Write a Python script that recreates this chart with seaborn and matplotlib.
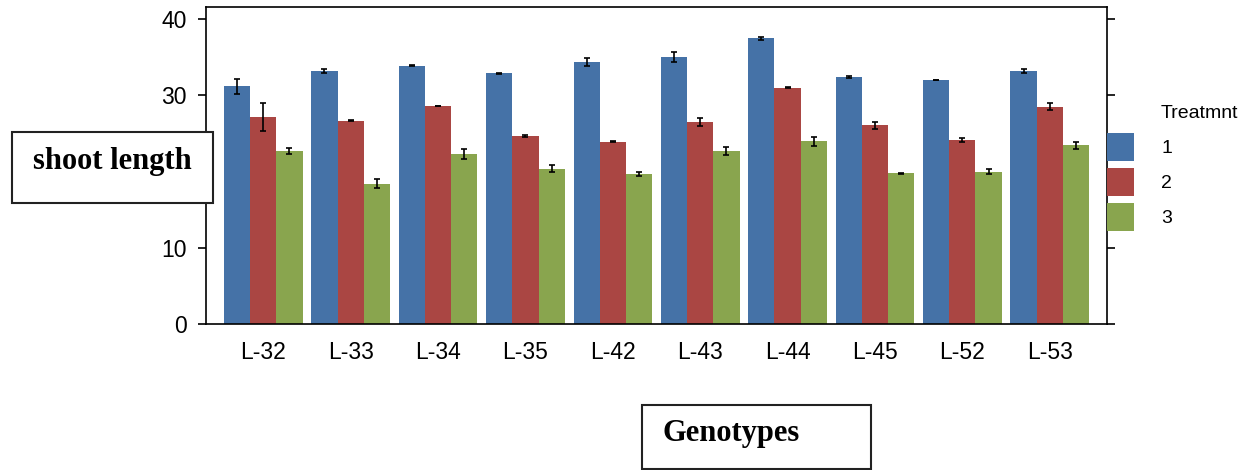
import matplotlib
matplotlib.use('Agg')
import matplotlib.pyplot as plt
from matplotlib.patches import Rectangle
import pandas as pd
import seaborn as sns

# values
genotypes = ['L-32', 'L-33', 'L-34', 'L-35', 'L-42', 'L-43', 'L-44', 'L-45', 'L-52', 'L-53']
treatments = ['1', '2', '3']
treat1 = [31.2, 33.2, 33.9, 32.9, 34.35, 35.1, 37.5, 32.45, 32.0, 33.2]
treat2 = [27.2, 26.7, 28.65, 24.7, 23.95, 26.5, 31.0, 26.1, 24.2, 28.5]
treat3 = [22.7, 18.4, 22.35, 20.4, 19.7, 22.7, 24.0, 19.8, 20.0, 23.45]
err1 = [0.96, 0.31, 0.04, 0.04, 0.53, 0.66, 0.22, 0.12, 0.0, 0.22]
err2 = [1.8, 0.06, 0.0, 0.15, 0.05, 0.53, 0.05, 0.48, 0.28, 0.46]
err3 = [0.37, 0.61, 0.66, 0.44, 0.24, 0.48, 0.59, 0.05, 0.3, 0.5]
y_ticks = [0, 10, 20, 30, 40]
y_ticklabels = ['0', '10', '', '30', '40']  # the 20 sits under the "shoot length" box
colors = ['#4572A7', '#AA4643', '#89A54E']

df = pd.DataFrame({
    'Genotype': genotypes * 3,
    'Treatmnt': [t for t in treatments for _ in genotypes],
    'shoot': treat1 + treat2 + treat3,
})

sns.set_style('white')
plt.rcParams['font.family'] = ['Liberation Sans', 'DejaVu Sans']
plt.rcParams['text.color'] = 'black'

fig = plt.figure(figsize=(12.51, 4.70), dpi=100)
ax = fig.add_axes([0.1647, 0.3106, 0.7202, 0.6751])

sns.barplot(data=df, x='Genotype', y='shoot', hue='Treatmnt', palette=colors,
            width=0.9, saturation=1, errorbar=None, linewidth=0, ax=ax)

# error bars on top of each bar
for cont, errs in zip(ax.containers, [err1, err2, err3]):
    xs = [b.get_x() + b.get_width() / 2 for b in cont]
    ys = [b.get_height() for b in cont]
    ax.errorbar(xs, ys, yerr=errs, fmt='none', ecolor='black',
                elinewidth=1.2, capsize=2.5, capthick=1.2)

ax.set_xlim(-0.655, 9.655)
ax.set_ylim(0, 41.65)
ax.set_yticks(y_ticks)
ax.set_yticklabels(y_ticklabels)
ax.set_xlabel('')
ax.set_ylabel('')
for s in ax.spines.values():
    s.set_color('black')
    s.set_linewidth(1.2)
ax.tick_params(axis='y', left=True, right=True, direction='out', length=6,
               width=1.2, colors='black', labelsize=16.5, pad=8)
ax.tick_params(axis='x', bottom=False, labelsize=16.5, pad=9, colors='black')

# legend on the right
handles, labels = ax.get_legend_handles_labels()
ax.legend(handles, labels, loc='upper left', bbox_to_anchor=(0.8847, 0.7164),
          bbox_transform=fig.transFigure, frameon=False, fontsize=14,
          handlelength=1.42, handleheight=1.78, handletextpad=1.39,
          labelspacing=0.4, borderpad=0, borderaxespad=0)
fig.text(1161 / 1251, (470 - 113.3) / 470, 'Treatmnt', va='center', ha='left',
         fontsize=14, color='black')

# boxed axis titles
fig.patches.append(Rectangle((11.7 / 1251, (470 - 202.7) / 470), 201 / 1251, 71 / 470,
                             transform=fig.transFigure, facecolor='white',
                             edgecolor='#222222', linewidth=1.5, zorder=10))
fig.text(112 / 1251, (470 - 161.7) / 470, 'shoot length', ha='center', va='center',
         family='Liberation Serif', weight='bold', fontsize=22, zorder=11)

fig.patches.append(Rectangle((642.3 / 1251, 1.2 / 470), 228.4 / 1251, 64 / 470,
                             transform=fig.transFigure, facecolor='white',
                             edgecolor='#222222', linewidth=1.5, zorder=10))
fig.text(662.7 / 1251, (470 - 433.3) / 470, 'Genotypes', ha='left', va='center',
         family='Liberation Serif', weight='bold', fontsize=22, zorder=11)

fig.savefig('out.png', dpi=100)
